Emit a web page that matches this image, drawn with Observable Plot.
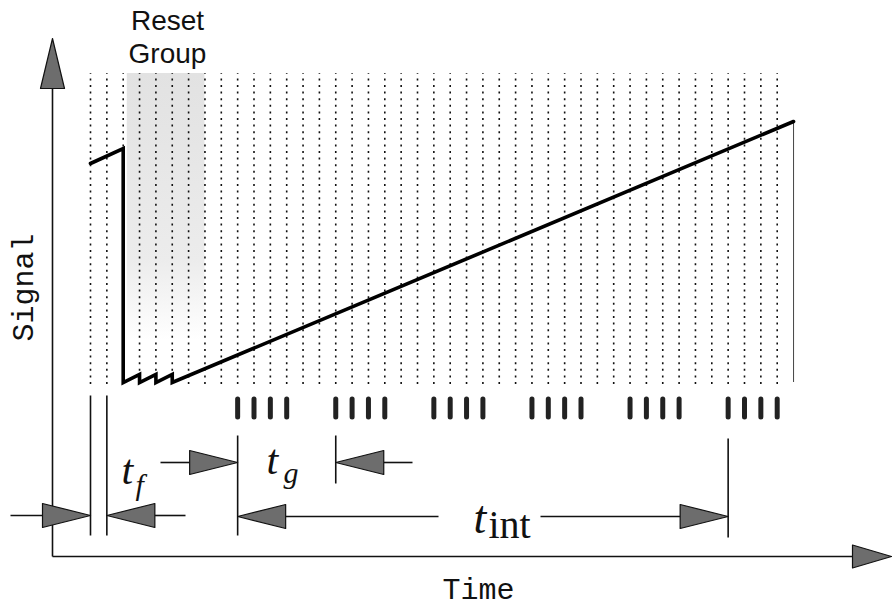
<!DOCTYPE html>
<html><head><meta charset="utf-8">
<script src="https://cdn.jsdelivr.net/npm/d3@7"></script>
<script src="https://cdn.jsdelivr.net/npm/@observablehq/plot@0.6"></script>
<style>body{margin:0;background:#fff}svg{display:block}</style>
</head><body><div id="chart"></div>
<script>
// ---- data ----
const readFrames = [0,1,2,3,4,5,6,7,8,9,10,11,12,13,14,15,16,17,18,19,20,21,22,23,24,25,26,27,28,29,30,31,32,33,34,35,36,37,38,39,40,41,42];
const signalFrame = [0, 2, 2, 3, 3, 4, 4, 5, 5, 43];
const signalLevel = [219, 234, 0, 8, 0, 8, 0, 8, 0, 261];
const groupFrames = [9,10,11,12, 15,16,17,18, 21,22,23,24, 27,28,29,30, 33,34,35,36, 39,40,41,42];
const resetGroup = [2.25, 7];
const endFrame = 43;
const axisLabels = ["Signal", "Time"];
const groupLabel = ["Reset", "Group"];
const intervalSymbols = ["t", "f", "g", "int"];

// ---- geometry helpers (pixel <-> data) ----
const W = 892, H = 608, px0 = 90, fw = 16.35, base = 382;
const X = px => (px - px0) / fw;      // pixel x -> frame
const Y = py => base - py;            // pixel y -> level
const Lf = px => px / fw;             // pixel length -> frames

const polys = [];
let pid = 0;
function head(tipF, lev, dir, len = 48, hw = 12) {
  const id = pid++;
  const b = tipF - dir * Lf(len);
  polys.push({id, x: tipF, y: lev}, {id, x: b, y: lev + hw}, {id, x: b, y: lev - hw}, {id, x: tipF, y: lev});
}
const segs = [];
function seg(x1, y1, x2, y2) { segs.push({x1, y1, x2, y2}); }

// axes
const axX = X(52), axY = Y(556);
seg(axX, Y(86), axX, axY);
seg(axX, axY, X(854), axY);
{
  const id = pid++;
  polys.push({id, x: axX, y: Y(38)}, {id, x: axX - Lf(12), y: Y(88)}, {id, x: axX + Lf(12), y: Y(88)}, {id, x: axX, y: Y(38)});
  const id2 = pid++;
  polys.push({id: id2, x: X(891), y: axY}, {id: id2, x: X(852), y: axY + 11.5}, {id: id2, x: X(852), y: axY - 11.5}, {id: id2, x: X(891), y: axY});
}
// reference ticks
seg(0, Y(395), 0, Y(535));
seg(1, Y(395), 1, Y(535));
seg(9, Y(435), 9, Y(535));
seg(15, Y(435), 15, Y(483));
seg(39, Y(438), 39, Y(537));
// t_f arrows
const yf = Y(515);
head(0, yf, 1); seg(X(10), yf, 0 - Lf(48), yf);
head(1, yf, -1); seg(1 + Lf(48), yf, X(185), yf);
// t_g arrows
const yg = Y(462);
head(9, yg, 1); seg(X(160), yg, 9 - Lf(48), yg);
head(15, yg, -1); seg(15 + Lf(48), yg, X(412), yg);
// t_int arrows
const yi = Y(516);
head(9, yi, -1); seg(9 + Lf(48), yi, X(438), yi);
head(39, yi, 1); seg(X(540), yi, 39 - Lf(48), yi);

const signal = signalFrame.map((f, i) => ({x: f, y: signalLevel[i]}));

const serif = "'Liberation Serif', 'Times New Roman', serif";
const sans = "'Liberation Sans', Arial, sans-serif";
const mono = "'Liberation Mono', 'Courier New', monospace";

const bigT = [
  {x: X(121), y: Y(483), t: intervalSymbols[0], fs: 42},
  {x: X(266), y: Y(473), t: intervalSymbols[0], fs: 42},
  {x: X(473), y: Y(532), t: intervalSymbols[0], fs: 46}
];
const subIt = [
  {x: X(135), y: Y(494), t: intervalSymbols[1]},
  {x: X(283), y: Y(482), t: intervalSymbols[2]}
];
const subInt = [{x: X(488), y: Y(537), t: intervalSymbols[3]}];

// gradient defs for the reset-group shading
const defs = () => {
  const s = d3.create("svg:defs");
  const g = s.append("linearGradient").attr("id", "rg").attr("x1", 0).attr("y1", 0).attr("x2", 0).attr("y2", 1);
  g.append("stop").attr("offset", "0%").attr("stop-color", "#e2e2e2");
  g.append("stop").attr("offset", "70%").attr("stop-color", "#ececec");
  g.append("stop").attr("offset", "100%").attr("stop-color", "#ffffff");
  return s.node();
};

const plot = Plot.plot({
  width: W, height: H,
  margin: 0,
  x: {domain: [X(0), X(W)], range: [0, W], axis: null},
  y: {domain: [Y(H), Y(0)], range: [H, 0], axis: null},
  marks: [
    defs,
    Plot.rect([resetGroup], {x1: d => d[0], x2: d => d[1], y1: Y(340), y2: Y(73), fill: "url(#rg)"}),
    Plot.ruleX(readFrames, {x: d => d, y1: Y(384), y2: Y(73), stroke: "#111", strokeWidth: 1.6, strokeDasharray: "2,4.6"}),
    Plot.ruleX([endFrame], {x: d => d, y1: 0, y2: signalLevel[signalLevel.length - 1], stroke: "#444", strokeWidth: 1}),
    Plot.ruleX(groupFrames, {x: d => d, y1: Y(399), y2: Y(417), stroke: "#222", strokeWidth: 5, strokeLinecap: "round"}),
    Plot.line(signal, {x: "x", y: "y", stroke: "#000", strokeWidth: 3.6, strokeLinejoin: "miter", strokeMiterlimit: 10}),
    Plot.link(segs, {x1: "x1", y1: "y1", x2: "x2", y2: "y2", stroke: "#111", strokeWidth: 1.6}),
    Plot.line(polys, {x: "x", y: "y", z: "id", fill: "#6d6d6d", stroke: "#111", strokeWidth: 1.2}),
    Plot.text([axisLabels[0]], {x: X(23), y: Y(287), text: d => d, rotate: -90, fontSize: 30, fontFamily: mono, fill: "#111"}),
    Plot.text([axisLabels[1]], {x: X(478), y: Y(598), text: d => d, fontSize: 30, fontFamily: mono, lineAnchor: "bottom", fill: "#111"}),
    Plot.text([groupLabel.join("\n")], {x: X(167), y: Y(62), text: d => d, fontSize: 28, lineHeight: 1.15, fontFamily: sans, lineAnchor: "bottom", fill: "#111"}),
    Plot.text(bigT, {x: "x", y: "y", text: "t", fontSize: "fs", fontFamily: serif, fontStyle: "italic", textAnchor: "start", lineAnchor: "bottom", fill: "#111"}),
    Plot.text(subIt, {x: "x", y: "y", text: "t", fontSize: 30, fontFamily: serif, fontStyle: "italic", textAnchor: "start", lineAnchor: "bottom", fill: "#111"}),
    Plot.text(subInt, {x: "x", y: "y", text: "t", fontSize: 40, fontFamily: serif, textAnchor: "start", lineAnchor: "bottom", fill: "#111"})
  ]
});
document.getElementById("chart").appendChild(plot);
</script>
</body></html>
